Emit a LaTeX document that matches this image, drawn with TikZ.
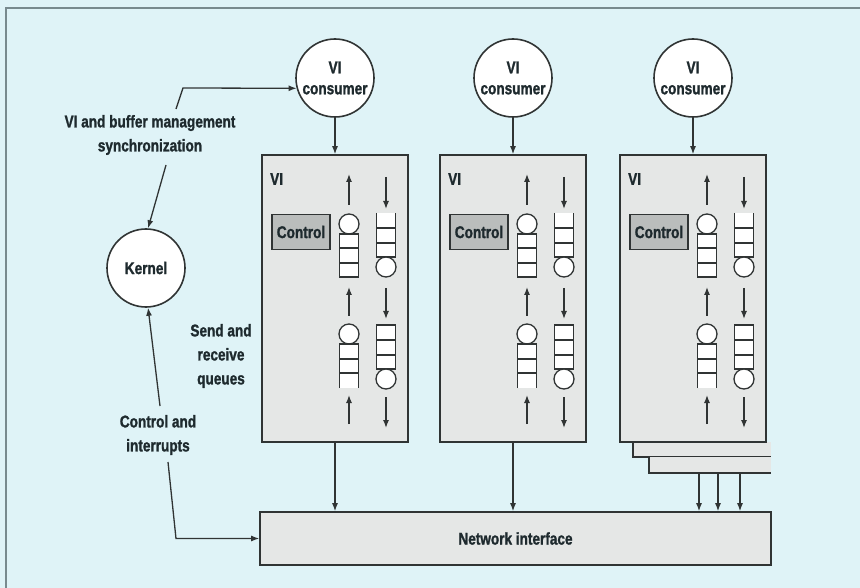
\documentclass[tikz,border=0pt]{standalone}
\definecolor{Sky}{RGB}{223,243,247}
\definecolor{Panel}{RGB}{229,231,230}
\definecolor{Shade}{RGB}{186,189,188}
\definecolor{Ink}{RGB}{30,42,46}
\definecolor{Edge}{RGB}{48,52,52}
\definecolor{Frame}{RGB}{120,138,142}
\usepackage{fontspec}
\setmainfont{Liberation Sans}[FakeStretch=0.8,BoldFeatures={FakeBold=1.3}]
\usepackage{tikz}
\usetikzlibrary{arrows.meta,positioning,calc}

\begin{document}
\begin{tikzpicture}[x=1pt,y=-1pt,
  every node/.style={font=\fontsize{17}{24}\selectfont\bfseries,text=Ink},
  consumer/.style={circle,draw=Edge,fill=white,line width=1.6pt,minimum size=78pt,inner sep=0pt,align=center},
  vibox/.style={draw=Edge,fill=Panel,line width=1.6pt,minimum width=146pt,minimum height=287pt,inner sep=0pt},
  ctrlbox/.style={draw=Edge,fill=Shade,line width=1.3pt,minimum width=58pt,minimum height=35pt,inner sep=0pt},
  netbox/.style={draw=Edge,fill=Panel,line width=1.6pt,minimum width=511pt,minimum height=53pt,inner sep=0pt},
  note/.style={align=center,inner sep=0pt},
  cell/.style={draw=Edge,fill=white,line width=1.3pt},
  arr/.style={draw=Edge,line width=1.3pt,-{Latex[length=8pt,width=6pt]}}]
  \useasboundingbox (0,0) rectangle (860,588);
  \fill[Sky] (0,0) rectangle (860,588);
  \draw[Frame,line width=1.5pt] (6,588) -- (6,8) -- (860,8);

  % stacked VIs behind the third one
  \fill[Panel] (633,442) rectangle (771,457);
  \draw[Edge,line width=1.5pt] (633,442) -- (633,457) -- (771,457);
  \fill[Panel] (649,457) rectangle (771,473);
  \draw[Edge,line width=1.5pt] (649,457) -- (649,473) -- (771,473);

  \foreach \L/\n in {262/1,440/2,620/3}{
    \node[consumer] (c\n) at (\L+73,78) {VI\\[-3pt]consumer};
    \node[vibox] (vi\n) at (\L+73,298.5) {};
    \draw[arr] (c\n) -- (vi\n);
    \begin{scope}[shift={(\L,0)}]
      \node[anchor=west,inner sep=0pt] (t\n) at (8,179) {VI};
      \node[ctrlbox] (ctl\n) at (39,232) {Control};
      % send queues
      \draw[arr] (87,205) -- (87,174);
      \draw[cell] (87,224) circle[radius=10];
      \draw[cell] (77.5,234) rectangle (96.5,277);
      \draw[Edge,line width=1.3pt] (77.5,248) -- (96.5,248) (77.5,263) -- (96.5,263);
      \draw[arr] (87,316) -- (87,287);
      \draw[cell] (87,334) circle[radius=10];
      \fill[white] (77.5,344) rectangle (96.5,388);
      \draw[Edge,line width=1.3pt] (77.5,388) -- (77.5,344) -- (96.5,344) -- (96.5,388)
        (77.5,359) -- (96.5,359) (77.5,373) -- (96.5,373);
      \draw[arr] (87,424) -- (87,395);
      % receive queues
      \draw[arr] (124,177) -- (124,209);
      \fill[white] (114.5,213) rectangle (133.5,257);
      \draw[Edge,line width=1.3pt] (114.5,213) -- (114.5,257) -- (133.5,257) -- (133.5,213)
        (114.5,228) -- (133.5,228) (114.5,243) -- (133.5,243);
      \draw[cell] (124,267) circle[radius=10];
      \draw[arr] (124,288) -- (124,319);
      \draw[cell] (114.5,325) rectangle (133.5,369);
      \draw[Edge,line width=1.3pt] (114.5,340) -- (133.5,340) (114.5,355) -- (133.5,355);
      \draw[cell] (124,379) circle[radius=10];
      \draw[arr] (124,397) -- (124,428);
    \end{scope}
  }

  \node[netbox] (ni) at (515.5,538.5) {Network interface};
  \node[consumer] (kernel) at (146,268) {Kernel};

  \node[note] (sync) at (150,135) {VI and buffer management\\synchronization};
  \node[note] (queues) at (221,356) {Send and\\receive\\queues};
  \node[note] (ctrl) at (158,435) {Control and\\interrupts};

  \draw[arr] (vi1) -- (vi1 |- ni.north);
  \draw[arr] (vi2) -- (vi2 |- ni.north);
  \foreach \x/\i in {699/1,718/2,740/3}{
    \coordinate (sh\i) at (\x,473);
    \draw[arr] (sh\i) -- (sh\i |- ni.north);
  }

  \coordinate (sy1) at (176,109);
  \coordinate (sy2) at (183,88);
  \coordinate (sy3) at (166,165);
  \draw[arr] (sy1) -- (sy2) -- (c1.195);
  \draw[arr] (sy3) -- (kernel.87);
  \coordinate (ci1) at (160,406);
  \coordinate (ci2) at (168,462);
  \coordinate (ci3) at (176,538.5);
  \draw[arr] (ci1) -- (kernel.273);
  \draw[arr] (ci2) -- (ci3) -- (ni.west);
\end{tikzpicture}
\end{document}
